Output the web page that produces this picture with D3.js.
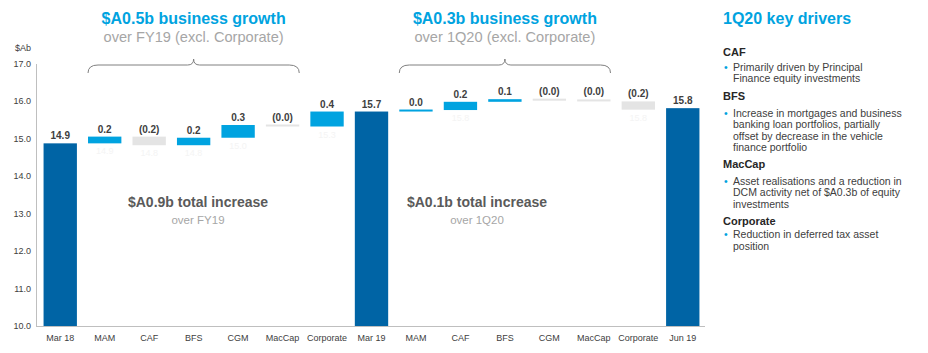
<!DOCTYPE html>
<html>
<head>
<meta charset="utf-8">
<script src="https://cdn.jsdelivr.net/npm/d3@7"></script>
<style>
  body { margin: 0; background: #fff; }
  svg { font-family: "Liberation Sans", Arial, sans-serif; }
</style>
</head>
<body>
<svg id="chart" width="928" height="353"></svg>
<script>
// categories along the x axis
const categories = ["Mar 18", "MAM", "CAF", "BFS", "CGM", "MacCap", "Corporate",
  "Mar 19", "MAM", "CAF", "BFS", "CGM", "MacCap", "Corporate", "Jun 19"];
// totals are absolute ($Ab), the rest are movements
const values = [14.88, 0.18, -0.23, 0.20, 0.34, -0.04, 0.40,
  15.73, 0.04, 0.22, 0.07, -0.04, -0.02, -0.22, 15.82];
const isTotal = [true, false, false, false, false, false, false,
  true, false, false, false, false, false, false, true];
const yTicks = [10, 11, 12, 13, 14, 15, 16, 17];

const drivers = [
  { head: "CAF", lines: ["Primarily driven by Principal", "Finance equity investments"] },
  { head: "BFS", lines: ["Increase in mortgages and business", "banking loan portfolios, partially",
    "offset by decrease in the vehicle", "finance portfolio"] },
  { head: "MacCap", lines: ["Asset realisations and a reduction in", "DCM activity net of $A0.3b of equity",
    "investments"] },
  { head: "Corporate", lines: ["Reduction in deferred tax asset", "position"] }
];

const svg = d3.select("#chart");
const dark = "#0064a5", up = "#00a3e0", down = "#e4e4e4";

//build waterfall steps
let run = 0;
const steps = values.map((v, i) => {
  let lo, hi;
  if (isTotal[i]) { lo = 10; hi = v; run = v; }
  else { const s = run; run = s + v; lo = Math.min(s, run); hi = Math.max(s, run); }
  return { i, v, lo, hi, total: isTotal[i] };
});

const x = d3.scaleBand()
  .domain(categories.map((c, i) => i))
  .range([38, 705])
  .paddingInner(0.25)
  .paddingOuter(0.125);
const y = d3.scaleLinear().domain([10, 17]).range([326, 64]);

const fmt = d3.format(".1f");
const label = d => d.total || d.v >= 0 ? fmt(Math.abs(d.v)) : `(${fmt(-d.v)})`;

//axes
svg.append("line")
  .attr("x1", 36.5).attr("x2", 36.5).attr("y1", y(17)).attr("y2", y(10))
  .attr("stroke", "#bfbfbf");
svg.append("line")
  .attr("x1", 36).attr("x2", 705).attr("y1", y(10) + 0.5).attr("y2", y(10) + 0.5)
  .attr("stroke", "#bfbfbf");

svg.selectAll(".ytick")
  .data(yTicks)
  .join("text")
  .attr("x", 31)
  .attr("y", d => y(d) + 3)
  .attr("text-anchor", "end")
  .attr("font-size", 9)
  .attr("fill", "#404040")
  .text(d => fmt(d));

svg.append("text")
  .attr("x", 15).attr("y", 51)
  .attr("font-size", 9).attr("fill", "#404040")
  .text("$Ab");

svg.selectAll(".xlab")
  .data(categories)
  .join("text")
  .attr("x", (d, i) => x(i) + x.bandwidth() / 2)
  .attr("y", 341)
  .attr("text-anchor", "middle")
  .attr("font-size", 9)
  .attr("fill", "#404040")
  .text(d => d);

//bars
svg.selectAll(".bar")
  .data(steps)
  .join("rect")
  .attr("x", d => x(d.i))
  .attr("width", x.bandwidth())
  .attr("y", d => Math.min(y(d.hi), y(d.lo) - 2))
  .attr("height", d => Math.max(y(d.lo) - y(d.hi), 2))
  .attr("fill", d => d.total ? dark : (d.v >= 0 ? up : down));

//faint base values under the movement bars
svg.selectAll(".base")
  .data(steps.filter(d => !d.total && Math.abs(d.v) > 0.1))
  .join("text")
  .attr("x", d => x(d.i) + x.bandwidth() / 2)
  .attr("y", d => y(d.lo) + 11)
  .attr("text-anchor", "middle")
  .attr("font-size", 9)
  .attr("fill", "#f4f4f4")
  .text(d => fmt(d.lo));

//value labels
svg.selectAll(".val")
  .data(steps)
  .join("text")
  .attr("x", d => x(d.i) + x.bandwidth() / 2)
  .attr("y", d => Math.min(y(d.hi), y(d.lo) - 2) - 4)
  .attr("text-anchor", "middle")
  .attr("font-size", 10)
  .attr("font-weight", "bold")
  .attr("fill", "#404040")
  .text(label);

//braces over the movement groups
function brace(i0, i1) {
  const x1 = x(i0), x2 = x(i1) + x.bandwidth(), m = (x1 + x2) / 2;
  const p = d3.path();
  p.moveTo(x1, 73);
  p.quadraticCurveTo(x1, 65, x1 + 10, 65);
  p.lineTo(m - 6, 65);
  p.quadraticCurveTo(m, 65, m, 59);
  p.quadraticCurveTo(m, 65, m + 6, 65);
  p.lineTo(x2 - 10, 65);
  p.quadraticCurveTo(x2, 65, x2, 73);
  svg.append("path").attr("d", p.toString())
    .attr("fill", "none").attr("stroke", "#808080").attr("stroke-width", 1);
  return m;
}
const m1 = brace(1, 5);
const m2 = brace(8, 12);

function heading(cx, big, small) {
  svg.append("text")
    .attr("x", cx).attr("y", 24)
    .attr("text-anchor", "middle")
    .attr("font-size", 16).attr("font-weight", "bold")
    .attr("fill", up)
    .text(big);
  svg.append("text")
    .attr("x", cx).attr("y", 42)
    .attr("text-anchor", "middle")
    .attr("font-size", 14.6)
    .attr("fill", "#a6a6a6")
    .text(small);
}
heading(m1, "$A0.5b business growth", "over FY19 (excl. Corporate)");
heading(m2, "$A0.3b business growth", "over 1Q20 (excl. Corporate)");

function totalNote(cx, big, small) {
  svg.append("text")
    .attr("x", cx).attr("y", 207)
    .attr("text-anchor", "middle")
    .attr("font-size", 14).attr("font-weight", "bold")
    .attr("fill", "#5a5a5a")
    .text(big);
  svg.append("text")
    .attr("x", cx).attr("y", 224)
    .attr("text-anchor", "middle")
    .attr("font-size", 11.5)
    .attr("fill", "#a6a6a6")
    .text(small);
}
totalNote(198, "$A0.9b total increase", "over FY19");
totalNote(477, "$A0.1b total increase", "over 1Q20");

//key drivers panel
const px = 723;
svg.append("text")
  .attr("x", px).attr("y", 24)
  .attr("font-size", 16).attr("font-weight", "bold")
  .attr("fill", up)
  .text("1Q20 key drivers");

const headY = [56, 99.5, 167.5, 224.5];
const firstLineY = [70.5, 116.5, 184.5, 238];
drivers.forEach((d, k) => {
  svg.append("text")
    .attr("x", px).attr("y", headY[k])
    .attr("font-size", 11).attr("font-weight", "bold")
    .attr("fill", "#262626")
    .text(d.head);
  svg.append("text")
    .attr("x", px + 1).attr("y", firstLineY[k])
    .attr("font-size", 10.5).attr("fill", up)
    .text("•");
  d.lines.forEach((t, j) => {
    svg.append("text")
      .attr("x", px + 10).attr("y", firstLineY[k] + j * 11.6)
      .attr("font-size", 10.5).attr("fill", "#404040")
      .text(t);
  });
});
</script>
</body>
</html>
